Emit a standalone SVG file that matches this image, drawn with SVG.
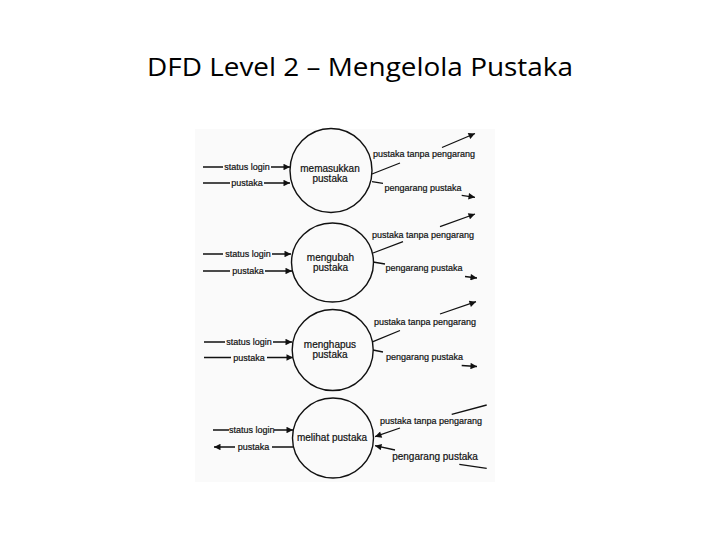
<svg xmlns="http://www.w3.org/2000/svg" width="720" height="540" viewBox="0 0 720 540">
  <style>
    .title { font-family: "Open Sans", "Liberation Sans", sans-serif; font-size: 25px; fill: #000; text-anchor: middle; }
    .proc { fill: none; stroke: #111; stroke-width: 1.4; }
    .plabel { font-family: "Liberation Sans", Arial, sans-serif; font-size: 10px; fill: #111; stroke: #111; stroke-width: 0.2; text-anchor: middle; }
    .flow { fill: none; stroke: #111; stroke-width: 1.3; marker-end: url(#ah); }
    .flabel { font-family: "Liberation Sans", Arial, sans-serif; font-size: 9px; fill: #111; stroke: #111; stroke-width: 0.2; text-anchor: middle; }
  </style>
  <defs>
    <marker id="ah" viewBox="0 0 10 10" refX="10" refY="5" markerWidth="8" markerHeight="6.5" markerUnits="userSpaceOnUse" orient="auto">
      <path d="M0,0 L10,5 L0,10 z" fill="#111"/>
    </marker>
  </defs>
  <rect width="720" height="540" fill="#ffffff"/>
  <text class="title" x="360" y="76" textLength="426" lengthAdjust="spacingAndGlyphs">DFD Level 2 – Mengelola Pustaka</text>
  <rect id="scan" x="195" y="129" width="300" height="353" fill="#fafafa"/>

  <g id="p1">
    <ellipse class="proc" cx="331" cy="170.5" rx="41" ry="42"/>
    <text class="plabel" x="330" y="171.5">memasukkan</text>
    <text class="plabel" x="330" y="182">pustaka</text>
  </g>
  <g id="p2">
    <ellipse class="proc" cx="332.5" cy="262.5" rx="41" ry="39.5"/>
    <text class="plabel" x="330.5" y="261">mengubah</text>
    <text class="plabel" x="330.5" y="271">pustaka</text>
  </g>
  <g id="p3">
    <ellipse class="proc" cx="332.7" cy="350" rx="40.5" ry="40.5"/>
    <text class="plabel" x="330" y="347.5">menghapus</text>
    <text class="plabel" x="330" y="357.5">pustaka</text>
  </g>
  <g id="p4">
    <ellipse class="proc" cx="333" cy="438" rx="40.5" ry="40"/>
    <text class="plabel" x="332" y="441">melihat pustaka</text>
  </g>

  <g id="connectors">
    <path class="flow" d="M203,167 H223 M271,167 H290"/>
    <text class="flabel" x="247" y="170">status login</text>
    <path class="flow" d="M203,183 H230 M264,183 H290"/>
    <text class="flabel" x="247" y="186">pustaka</text>
    <path class="flow" d="M372,174 L400,163 M442,147.5 L475,133.5"/>
    <text class="flabel" x="424" y="157">pustaka tanpa pengarang</text>
    <path class="flow" d="M372,181.7 L383,183.4 M461.7,195.3 L475,197.3"/>
    <text class="flabel" x="423" y="191">pengarang pustaka</text>

    <path class="flow" d="M203,254 H223 M272,254 H291"/>
    <text class="flabel" x="248" y="257">status login</text>
    <path class="flow" d="M203,271 H230 M265,271 H292"/>
    <text class="flabel" x="248" y="274">pustaka</text>
    <path class="flow" d="M373,253 L403,241.7 M440,226.7 L475,214"/>
    <text class="flabel" x="423" y="238">pustaka tanpa pengarang</text>
    <path class="flow" d="M373,262 L385,264 M465,276.5 L477,278"/>
    <text class="flabel" x="424" y="271">pengarang pustaka</text>

    <path class="flow" d="M204,342 H225 M273,342 H292"/>
    <text class="flabel" x="249" y="345">status login</text>
    <path class="flow" d="M204,357.5 H231 M267,357.5 H293"/>
    <text class="flabel" x="249" y="360.5">pustaka</text>
    <path class="flow" d="M373,341.7 L400,330.5 M440,314 L476,301.7"/>
    <text class="flabel" x="425" y="325">pustaka tanpa pengarang</text>
    <path class="flow" d="M373,350 L383,352 M461.7,365.5 L477,366.5"/>
    <text class="flabel" x="424.5" y="360">pengarang pustaka</text>

    <path class="flow" d="M213,430 H229 M274,430 H293"/>
    <text class="flabel" x="251.7" y="433">status login</text>
    <path class="flow" d="M293,447 H272 M235,447 H214"/>
    <text class="flabel" x="253.5" y="450">pustaka</text>
    <path class="flow" d="M486.7,405 L451.7,414.3 M400,428 L375,436.7"/>
    <text class="flabel" x="431" y="424">pustaka tanpa pengarang</text>
    <path class="flow" d="M486.7,468.3 L459.3,464.3 M395,450 L375,445.7"/>
    <text class="flabel" x="435" y="460" style="font-size:10px">pengarang pustaka</text>
  </g>
</svg>
